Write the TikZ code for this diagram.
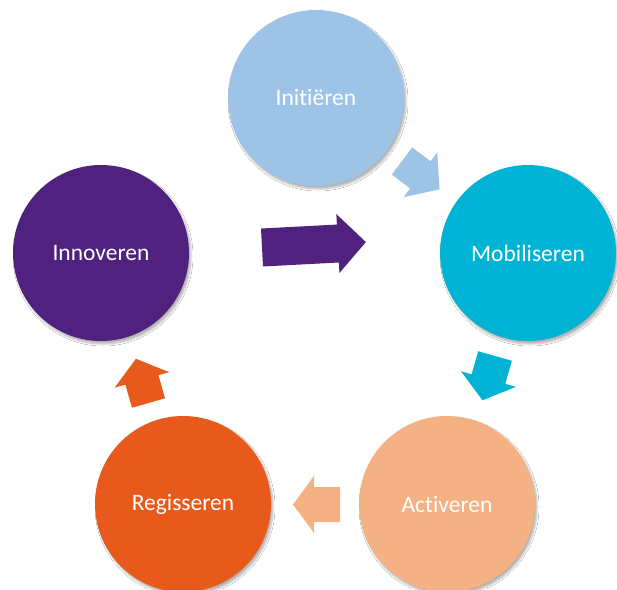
\documentclass[tikz,border=0pt]{standalone}
\usepackage{fontspec}
\setmainfont{Carlito}[Ligatures=NoCommon]
\usetikzlibrary{shadows.blur}
\definecolor{cInit}{HTML}{9DC3E6}
\definecolor{cMob}{HTML}{00B3D5}
\definecolor{cAct}{HTML}{F4B183}
\definecolor{cReg}{HTML}{E85A1B}
\definecolor{cInn}{HTML}{50217E}
\tikzset{
  pics/blockarrow/.style n args={4}{code={
    \path[pic actions] (0,-#1) -- (#3,-#1) -- (#3,-#2) -- (#3+#4,0) -- (#3,#2) -- (#3,#1) -- (0,#1) -- cycle;
  }},
  softshadow/.style={blur shadow={shadow xshift=2pt, shadow yshift=-3pt, shadow opacity=30, shadow blur steps=6, shadow blur radius=2pt}},
  phase/.style={circle, minimum size=176pt, inner sep=0pt, text=white,
    font=\fontsize{23.5}{27}\selectfont, softshadow},
  blockarr/.style={softshadow}
}
\begin{document}
\begin{tikzpicture}[x=1pt,y=-1pt]
\useasboundingbox (0,0) rectangle (617,589);
\clip (0,0) rectangle (617,589);
\fill[white] (0,0) rectangle (617,589);
% arrows
\pic[fill=cInit, rotate=-37, blockarr] (a1) at (402,161) {blockarrow={17}{28}{23}{24}};
\pic[fill=cMob, rotate=-105.8, blockarr] (a2) at (495,356) {blockarrow={17.5}{28.5}{24}{22}};
\pic[fill=cAct, rotate=180, blockarr] (a3) at (340,504.5) {blockarrow={17.5}{28.5}{26}{21}};
\pic[fill=cReg, rotate=105.9, blockarr] (a4) at (148.5,403) {blockarrow={17.2}{28.3}{24}{22}};
\pic[fill=cInn, rotate=3, blockarr] (a5) at (262,247.5) {blockarrow={19}{29.5}{76}{28}};
% circles
\node[phase, fill=cInit] (init) at (316,98) {Initiëren};
\node[phase, fill=cMob] (mob) at (528,253) {Mobiliseren};
\node[phase, fill=cAct] (act) at (447,504) {Activeren};
\node[phase, fill=cReg] (reg) at (183,504) {Regisseren};
\node[phase, fill=cInn] (inn) at (101,253) {Innoveren};
\end{tikzpicture}
\end{document}
